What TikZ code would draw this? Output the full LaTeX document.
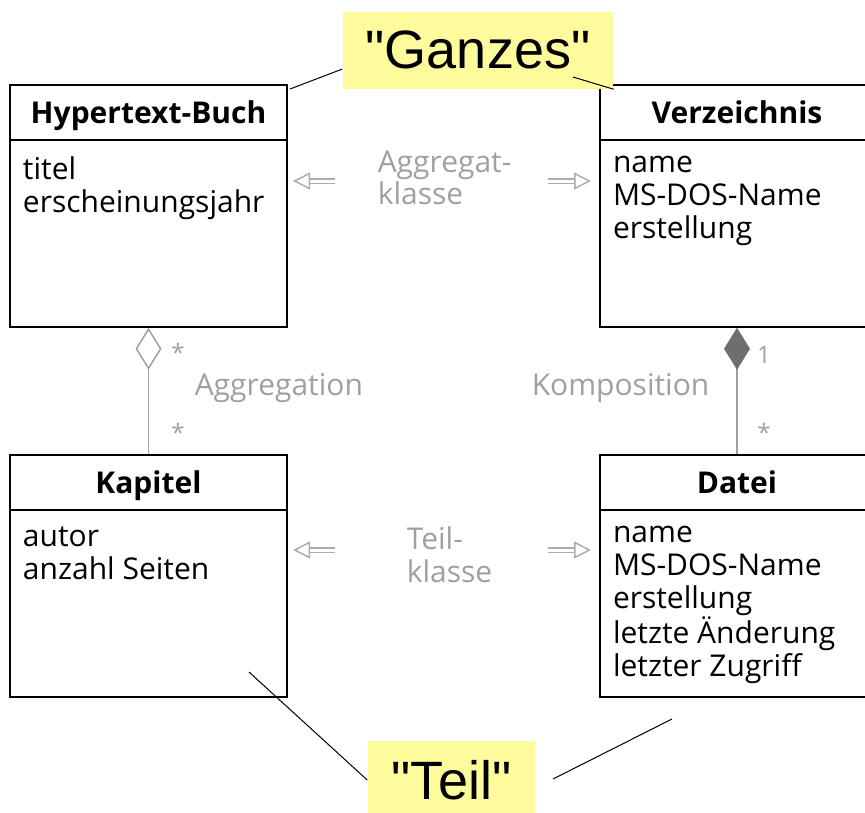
\documentclass[tikz,border=0pt]{standalone}
\usepackage{fontspec}
\setmainfont{Open Sans}
\newfontfamily\notizfont{Liberation Sans}
\usetikzlibrary{arrows.meta, positioning}
\definecolor{notizgelb}{HTML}{FDFB9C}
\definecolor{hellgrau}{HTML}{A0A0A0}
\definecolor{pfeilgrau}{HTML}{ADADAD}
\definecolor{rautengrau}{HTML}{6E6E6E}

\begin{document}
\begin{tikzpicture}[x=1pt, y=-1pt, line width=1.5pt,
    klasse/.style={draw, minimum width=277pt, minimum height=242pt, inner sep=0pt},
    kopf/.style={anchor=north, minimum width=277pt, minimum height=54pt, inner sep=0pt, text height=26pt, text depth=4pt, font=\fontsize{30}{34}\selectfont\bfseries},
    attr/.style={anchor=north west, align=left, inner xsep=13pt, inner ysep=16pt, font=\fontsize{30}{32.8}\selectfont},
    grautext/.style={text=hellgrau, inner sep=0pt, align=left, font=\fontsize{30}{32.5}\selectfont},
    mult/.style={text=hellgrau, inner sep=0pt, font=\fontsize{24}{26}\selectfont},
    notiz/.style={fill=notizgelb, inner sep=0pt, minimum width=270pt, minimum height=77pt, font=\notizfont\fontsize{54}{60}\selectfont},
    doppel/.style={draw=pfeilgrau, line width=1.2pt, double=white, double distance=3pt, -{Triangle[open, fill=white, length=17pt, width=17pt, line width=1.5pt]}},
    aggr/.style={draw=hellgrau, -{Diamond[fill=white, length=42pt, width=26pt]}},
    kompo/.style={draw=hellgrau, -{Diamond[fill=rautengrau, color=rautengrau, length=42pt, width=26pt]}},
    strich/.style={line width=1pt}]
    \useasboundingbox (0,0) rectangle (865,812);

    % Klassen
    \node[klasse] (buch) at (148.5,206) {};
    \node[klasse, minimum width=274pt] (verz) at (737,206) {};
    \node[klasse] (kapitel) at (148.5,576) {};
    \node[klasse, minimum width=274pt] (datei) at (737,576) {};

    \node[kopf] (buchkopf) at (buch.north) {Hypertext-Buch};
    \node[kopf, minimum width=274pt] (verzkopf) at (verz.north) {Verzeichnis};
    \node[kopf] (kapitelkopf) at (kapitel.north) {Kapitel};
    \node[kopf, minimum width=274pt] (dateikopf) at (datei.north) {Datei};
    \foreach \k in {buchkopf, verzkopf, kapitelkopf, dateikopf}
        \draw (\k.south west) -- (\k.south east);

    \node[attr] (buchattr) at (buchkopf.south west) {titel\\erscheinungsjahr};
    \node[attr] (verzattr) at (verzkopf.south west) {name\\MS-DOS-Name\\erstellung};
    \node[attr] (kapitelattr) at (kapitelkopf.south west) {autor\\anzahl Seiten};
    \node[attr] (dateiattr) at (dateikopf.south west) {name\\MS-DOS-Name\\erstellung\\letzte Änderung\\letzter Zugriff};

    % Beziehungen
    \draw[aggr] (kapitel.north) -- (buch.south);
    \draw[kompo] (datei.north) -- (verz.south);
    \node[mult] (m1) at (178,352) {*};
    \node[mult] (m2) at (178,432) {*};
    \node[mult] (m3) at (764,355) {1};
    \node[mult] (m4) at (764,432) {*};
    \node[grautext, anchor=north west] (aggregation) at (194,373) {Aggregation};
    \node[grautext, anchor=north west] (komposition) at (531,373) {Komposition};

    \node[grautext, anchor=north west] (aggrklasse) at (377,150) {Aggregat-\\klasse};
    \node[grautext, anchor=north west] (teilklasse) at (406,526) {Teil-\\klasse};
    \coordinate (a1) at (335,181);
    \coordinate (a2) at (293,181);
    \coordinate (a3) at (548,181);
    \coordinate (a4) at (591,181);
    \coordinate (b1) at (335,550);
    \coordinate (b2) at (293,550);
    \coordinate (b3) at (548,550);
    \coordinate (b4) at (591,550);
    \draw[doppel] (a1) -- (a2);
    \draw[doppel] (a3) -- (a4);
    \draw[doppel] (b1) -- (b2);
    \draw[doppel] (b3) -- (b4);

    % Notizen
    \node[notiz] (ganzes) at (478,50) {"Ganzes"};
    \node[notiz, minimum width=167pt, minimum height=78pt] (teil) at (451.5,780) {"Teil"};
    \coordinate (g1) at (290,89);
    \coordinate (g2) at (573,77);
    \coordinate (t1) at (249,672);
    \coordinate (t2) at (553,779);
    \coordinate (t3) at (672,719);
    \draw[strich] (ganzes.188) -- (g1);
    \draw[strich] (g2) -- (ganzes.south east);
    \draw[strich] (t1) -- (teil.west);
    \draw[strich] (t2) -- (t3);
\end{tikzpicture}
\end{document}
